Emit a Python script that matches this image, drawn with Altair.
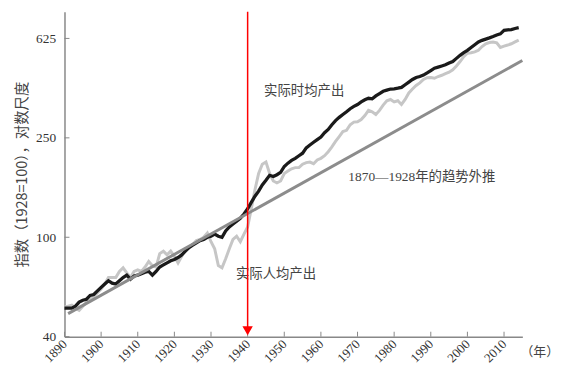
import altair as alt
import pandas as pd

years = list(range(1890, 2015))
hourly_output = [
    52, 52, 52, 53, 55, 56, 56.5, 58.5, 59, 61,
    63, 65, 67, 65.5, 65, 67, 69, 70.5, 68, 70,
    70.5, 71.5, 72.5, 73, 70.5, 73, 76, 77.5, 79, 80.5,
    81.5, 83, 85, 88, 91, 93, 95, 97, 98, 100,
    101, 103, 101, 100, 106, 110, 113, 116, 119, 124,
    130, 138, 146, 153, 162, 169, 177, 175, 178, 182,
    192, 198, 203, 207, 212, 217, 228, 234, 240, 246,
    252, 262, 270, 282, 293, 302, 310, 318, 327, 334,
    340, 348, 355, 360, 358, 368, 376, 384, 388, 392,
    393, 395, 398, 408, 418, 428, 436, 440, 446, 455,
    465, 475, 480, 485, 490, 498, 505, 520, 535, 548,
    560, 575, 590, 605, 614, 621, 628, 636, 645, 652,
    673, 676, 678, 685, 690,
]
per_capita_output = [
    52.5, 53, 53.5, 52, 51, 53, 55, 56, 58, 60,
    62, 65, 69, 69, 69, 73, 75.5, 72, 69, 73,
    74, 73, 76, 80, 77, 76, 86, 88, 85, 88,
    84, 79, 84, 89, 91, 93.5, 97, 98, 100, 104,
    96, 90, 77, 75.5, 82, 90, 98, 101, 96, 103,
    110, 130, 155, 180, 196, 200, 180, 168, 165, 168,
    180, 184, 188, 190, 190, 196, 199, 200, 197, 204,
    207, 212, 220, 230, 242, 253, 265, 268, 282, 289,
    290, 296, 307, 322, 318, 310, 322, 338, 352, 356,
    348, 352, 340, 356, 378, 392, 405, 415, 428, 435,
    436, 433, 440, 445, 452, 458, 468, 485, 505, 528,
    545, 548, 552, 560, 580, 595, 602, 605, 600, 575,
    582, 588, 595, 605, 615,
]
trend_years = [1891, 2015]
trend_values = [49.5, 510]
marker_year = [1940]
y_ticks = [40, 100, 250, 625]
x_ticks = list(range(1890, 2011, 10))
labels = ["实际时均产出", "1870—1928年的趋势外推", "实际人均产出"]
label_years = [1944.5, 1967.5, 1936.8]
label_values = [384, 175, 71]

W, H = 462, 328
CJK = "'Noto Sans CJK SC'"
SERIF = "'Liberation Serif', 'Noto Sans CJK SC'"

xs = alt.Scale(domain=[1890, 2015], nice=False, zero=False)
ys = alt.Scale(type="log", domain=[40, 800], nice=False)

df = pd.DataFrame({"year": years, "hourly": hourly_output, "capita": per_capita_output})
trend = pd.DataFrame({"year": trend_years, "v": trend_values})
marker = pd.DataFrame({"year": marker_year, "v": [40]})
ytk = pd.DataFrame({"v": y_ticks})
xtk = pd.DataFrame({"year": x_ticks})
lab = pd.DataFrame({"t": labels, "year": label_years, "v": label_values})

x_axis = alt.Axis(
    values=x_ticks, format="d", labelAngle=315, labelAlign="right",
    labelBaseline="middle", labelFont="Liberation Serif", labelFontSize=13,
    labelColor="#333", ticks=False, domainColor="#888", domainWidth=1.5,
    labelOverlap=False, labelBound=False, labelFlush=False, labelSeparation=0,
    title="（年）", titleFont=CJK, titleFontSize=13, titleFontWeight="normal",
    titleColor="#444", titleX=479, titleY=15, titleAlign="center",
    titleBaseline="middle", grid=False, labelPadding=5,
)
y_axis = alt.Axis(
    values=y_ticks, format="d", labelFont="Liberation Serif", labelFontSize=13.5,
    labelColor="#333", ticks=False, domainColor="#888", domainWidth=1.5,
    labelOverlap=False,
    title="指数（1928=100），对数尺度", titleFont=CJK, titleFontSize=14.5,
    titleFontWeight="normal", titleColor="#444", titleX=-42, titleY=H / 2,
    titleAngle=270, titleAlign="center", titleBaseline="middle",
    grid=False, labelPadding=9,
)


def X(field):
    return alt.X(field, type="quantitative", scale=xs, axis=x_axis)


def Y(field):
    return alt.Y(field, type="quantitative", scale=ys, axis=y_axis)


capita_line = alt.Chart(df).mark_line(color="#c6c6c6", strokeWidth=3).encode(
    x=X("year"), y=Y("capita")
)
hourly_line = alt.Chart(df).mark_line(color="#1a1a1a", strokeWidth=3.3).encode(
    x=X("year"), y=Y("hourly")
)
trend_line = alt.Chart(trend).mark_line(color="#8c8c8c", strokeWidth=3).encode(
    x=X("year"), y=Y("v")
)
red_rule = alt.Chart(marker).mark_rule(color="#ff0000", strokeWidth=1.5).encode(
    x=X("year"), y=alt.value(0), y2=alt.value(H - 6)
)
red_head = alt.Chart(marker).mark_point(
    shape="triangle-down", filled=True, color="#ff0000", opacity=1, size=110, yOffset=-6
).encode(x=X("year"), y=Y("v"))
yticks = alt.Chart(ytk).mark_rule(color="#888", strokeWidth=1).encode(
    y=Y("v"), x=alt.value(0), x2=alt.value(5)
)
xticks = alt.Chart(xtk).mark_rule(color="#888", strokeWidth=1).encode(
    x=X("year"), y=alt.value(H), y2=alt.value(H - 5)
)
texts = alt.Chart(lab).mark_text(
    align="left", baseline="middle", font=SERIF, fontSize=13.5, color="#444"
).encode(x=X("year"), y=Y("v"), text="t:N")

chart = alt.layer(
    capita_line, hourly_line, trend_line, yticks, xticks, texts, red_rule, red_head
).properties(
    width=W, height=H, autosize="none",
    padding={"left": 57, "top": 2, "right": 40, "bottom": 40},
).configure_view(stroke=None)

chart.save("out.html", embed_options={"renderer": "svg", "actions": False})
